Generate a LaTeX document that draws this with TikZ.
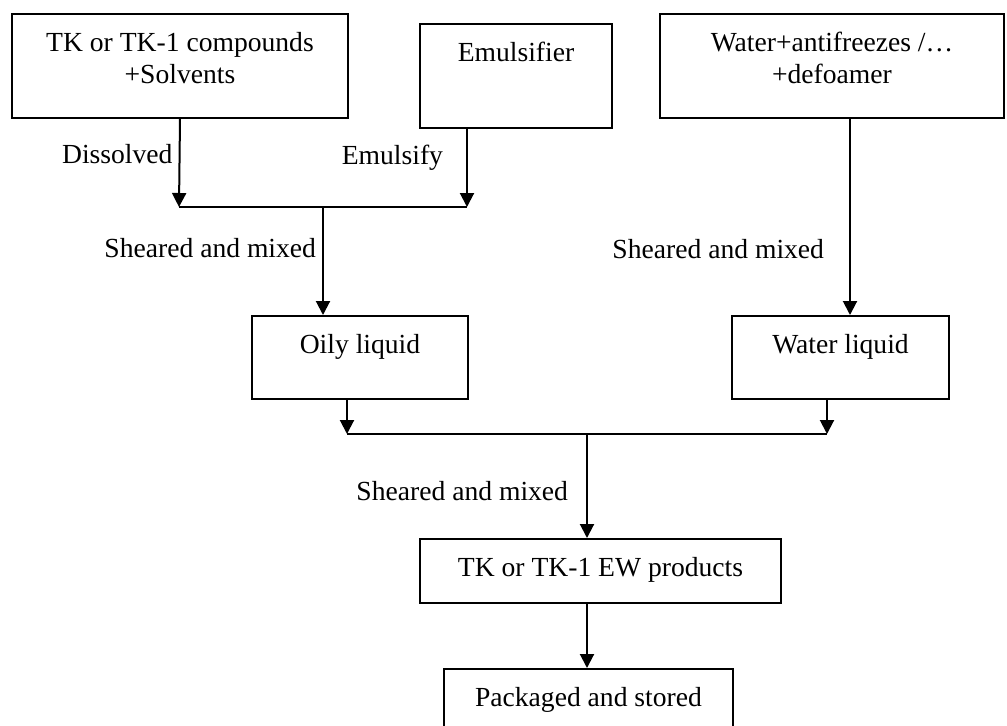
\documentclass[tikz,border=0pt]{standalone}
\usepackage{fontspec}
\setmainfont{Liberation Serif}
\usetikzlibrary{arrows.meta,calc,positioning}

\tikzset{
  box/.style={draw,line width=1pt,inner sep=0pt,anchor=north west,align=flush center,
    text height=18.5pt,font=\fontsize{13.8}{16}\selectfont},
  arr/.style={-{Triangle[width=7pt,length=7pt]},line width=1pt},
  bar/.style={line width=1pt},
  lbl/.style={anchor=base east,inner sep=0pt,font=\fontsize{13.8}{16}\selectfont},
}

\begin{document}
\begin{tikzpicture}[x=0.5pt,y=-0.5pt]
            \clip (0,0) rectangle (1007,725);
            \fill[white] (0,0) rectangle (1007,725);

            \coordinate (jA) at (179,207);
            \coordinate (jB) at (467,207);
            \coordinate (jC) at (323,207);
            \coordinate (kA) at (347,434);
            \coordinate (kB) at (827,434);
            \coordinate (kC) at (587,434);
            \coordinate (wx) at (850,121);

            \node[box,text width=168pt,text depth=33.5pt] (src) at (11,13) {TK or TK-1 compounds\\+Solvents};
            \node[box,text width=96pt,text depth=33.5pt] (emu) at (419,23) {Emulsifier};
            \node[box,text width=172pt,text depth=33.5pt] (wat) at (659,13) {Water+antifreezes /…\\+defoamer};
            \node[box,text width=108pt,text depth=23pt] (oily) at (251,315) {Oily liquid};
            \node[box,text width=108.5pt,text depth=23pt] (wliq) at (731,315) {Water liquid};
            \node[box,text width=180.5pt,text depth=13.5pt] (ew) at (419,538) {TK or TK-1 EW products};
            \node[box,text width=144.5pt,text depth=20pt] (pack) at (443,668) {Packaged and stored};

            \draw[arr] (src.south) -- node[lbl,pos=.51,xshift=-3pt] (dis) {Dissolved} (jA);
            \draw[arr] (emu.south -| jB) -- node[lbl,pos=.45,xshift=-11.5pt] (emz) {Emulsify} (jB);
            \draw[bar] (jA) -- (jB);
            \draw[arr] (jC) -- node[lbl,pos=.47,xshift=-3pt] (shA) {Sheared and mixed} (jC |- oily.north);
            \draw[arr] (wat.south -| wx) -- node[lbl,pos=.71,xshift=-12.5pt] (shB) {Sheared and mixed} (wliq.north -| wx);
            \draw[arr] (oily.south -| kA) -- (kA);
            \draw[arr] (wliq.south -| kB) -- (kB);
            \draw[bar] (kA) -- (kB);
            \draw[arr] (kC) -- node[lbl,pos=.635,xshift=-9pt] (shC) {Sheared and mixed} (ew.north -| kC);
            \draw[arr] (ew.south -| kC) -- (pack.north -| kC);

\end{tikzpicture}
\end{document}
